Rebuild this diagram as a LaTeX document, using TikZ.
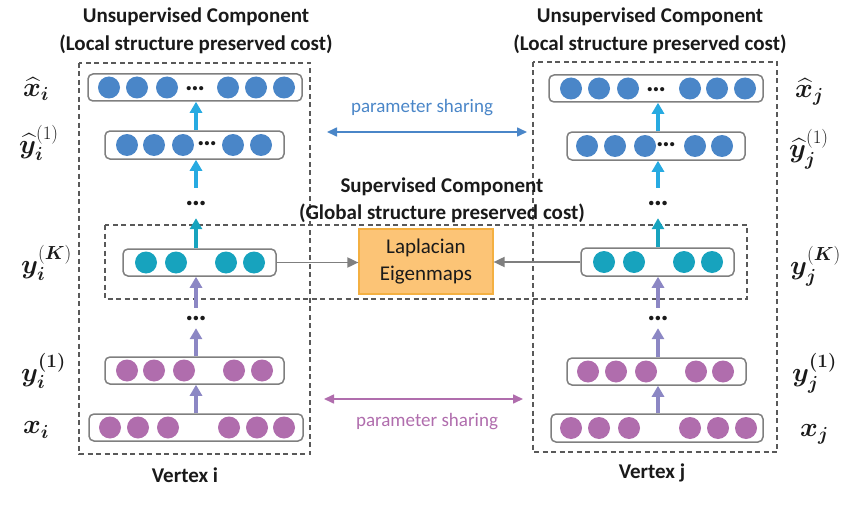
\RequirePackage{fix-cm}
\documentclass[tikz,border=0pt]{standalone}
\usepackage{amsmath,bm}
\usepackage{fontspec}
\setmainfont{Carlito}
\usetikzlibrary{arrows.meta,calc}
\definecolor{cblue}{HTML}{4A86C8}
\definecolor{cteal}{HTML}{17A3BE}
\definecolor{cpurp}{HTML}{B06DAD}
\definecolor{acyan}{HTML}{27AAE1}
\definecolor{ateal}{HTML}{17A3BE}
\definecolor{apurp}{HTML}{8C87C4}
\definecolor{boxgray}{HTML}{7F7F7F}
\definecolor{dashgray}{HTML}{595959}
\definecolor{lapfill}{HTML}{FCC476}
\definecolor{lapline}{HTML}{F4B042}
\definecolor{txt}{HTML}{1A1A1A}
\begin{document}
\begin{tikzpicture}[x=1pt,y=-1pt,
  lay/.style={draw=boxgray, line width=1.5pt, rounded corners=5pt, inner sep=0pt, fill=white},
  circ/.style={circle, inner sep=0pt, minimum size=22pt},
  indots/.style={inner sep=0pt, text=txt, font=\fontsize{28}{28}\selectfont\bfseries},
  gapdots/.style={inner sep=0pt, minimum width=10pt, text=txt, font=\fontsize{30}{30}\selectfont\bfseries},
  uarr/.style={line width=4pt, -{Triangle[length=11pt,width=12pt]}},
  dbox/.style={draw=dashgray, line width=1.1pt, dash pattern=on 5pt off 3.5pt},
  title/.style={font=\fontsize{21}{24}\selectfont\bfseries, text=txt, inner sep=0pt},
  mlab/.style={font=\fontsize{27}{30}\selectfont, text=txt, inner sep=0pt, anchor=west},
  share/.style={font=\fontsize{19}{22}\selectfont, inner sep=0pt},
  sarr/.style={line width=1.6pt, {Triangle[length=10pt,width=9pt]}-{Triangle[length=10pt,width=9pt]}},
  garr/.style={draw=boxgray, line width=1.8pt, -{Triangle[length=11pt,width=10pt]}}
]
\useasboundingbox (0,0) rectangle (844,511);

% dashed frames
\draw[dbox] (79,63) rectangle (310,454);
\draw[dbox] (533,62) rectangle (777,452);
\draw[dbox] (105,225) rectangle (747,299);

% titles
\node[title] (t1a) at (196,17) {Unsupervised Component};
\node[title] (t1b) at (196,44) {(Local structure preserved cost)};
\node[title] (t2a) at (650,17) {Unsupervised Component};
\node[title] (t2b) at (650,44) {(Local structure preserved cost)};
\node[title] (t3a) at (442,187) {Supervised Component};
\node[title] (t3b) at (442,213) {(Global structure preserved cost)};
\node[title] (vi) at (185,475) {Vertex i};
\node[title] (vj) at (652,473) {Vertex j};

% ---------- left column ----------
\node[lay, minimum width=214pt, minimum height=27pt] (xhi) at (195,87.5) {};
\foreach \cx [count=\k] in {109,137,167,228,256,284} \node[circ, fill=cblue] (xhi-\k) at (\cx,87.5) {};
\node[indots] (xhid) at (195,89) {…};

\node[lay, minimum width=179pt, minimum height=28pt] (yhi) at (194.5,145) {};
\foreach \cx [count=\k] in {127,154,183,233,261} \node[circ, fill=cblue] (yhi-\k) at (\cx,145) {};
\node[indots] (yhid) at (207,144) {…};

\node[gapdots, minimum height=30pt] (dti) at (196,203) {…};

\node[lay, minimum width=153pt, minimum height=27pt] (yKi) at (199.5,262.5) {};
\foreach \cx [count=\k] in {146,176,226,254} \node[circ, fill=cteal] (yKi-\k) at (\cx,262.5) {};

\node[gapdots, minimum height=20pt] (dbi) at (196,318) {…};

\node[lay, minimum width=179pt, minimum height=27pt] (y1i) at (194.5,370.5) {};
\foreach \cx [count=\k] in {127,154,184,234,262} \node[circ, fill=cpurp] (y1i-\k) at (\cx,370.5) {};

\node[lay, minimum width=214pt, minimum height=27pt] (xi) at (196,427.5) {};
\foreach \cx [count=\k] in {110,138,168,229,257,284} \node[circ, fill=cpurp] (xi-\k) at (\cx,427.5) {};

\draw[uarr, draw=acyan] (xi.north |- yhi.north) -- (xi.north |- xhi.south);
\draw[uarr, draw=acyan] (dti.north) -- (dti.north |- yhi.south);
\draw[uarr, draw=ateal] (dti.north |- yKi.north) -- (dti.south);
\draw[uarr, draw=apurp] (dbi.north) -- (dbi.north |- yKi.south);
\draw[uarr, draw=apurp] (dbi.north |- y1i.north) -- (dbi.south);
\draw[uarr, draw=apurp] (xi.north) -- (xi.north |- y1i.south);

% ---------- right column ----------
\node[lay, minimum width=214pt, minimum height=27pt] (xhj) at (656,88.5) {};
\foreach \cx [count=\k] in {571,599,628,690,717,745} \node[circ, fill=cblue] (xhj-\k) at (\cx,88.5) {};
\node[indots] (xhjd) at (656,90) {…};

\node[lay, minimum width=178pt, minimum height=28pt] (yhj) at (656,146) {};
\foreach \cx [count=\k] in {587,615,645,695,722} \node[circ, fill=cblue] (yhj-\k) at (\cx,146) {};
\node[indots] (yhjd) at (666,145) {…};

\node[gapdots, minimum height=30pt] (dtj) at (658,203) {…};

\node[lay, minimum width=153pt, minimum height=28pt] (yKj) at (657.5,262) {};
\foreach \cx [count=\k] in {604,634,684,712} \node[circ, fill=cteal] (yKj-\k) at (\cx,262) {};

\node[gapdots, minimum height=20pt] (dbj) at (658,318) {…};

\node[lay, minimum width=179pt, minimum height=27pt] (y1j) at (656.5,371.5) {};
\foreach \cx [count=\k] in {588,616,646,696,723} \node[circ, fill=cpurp] (y1j-\k) at (\cx,371.5) {};

\node[lay, minimum width=212pt, minimum height=28pt] (xj) at (657,428) {};
\foreach \cx [count=\k] in {571,599,629,690,718,746} \node[circ, fill=cpurp] (xj-\k) at (\cx,428) {};

\draw[uarr, draw=acyan] (dtj.north |- yhj.north) -- (dtj.north |- xhj.south);
\draw[uarr, draw=acyan] (dtj.north) -- (dtj.north |- yhj.south);
\draw[uarr, draw=ateal] (dtj.north |- yKj.north) -- (dtj.south);
\draw[uarr, draw=apurp] (dbj.north) -- (dbj.north |- yKj.south);
\draw[uarr, draw=apurp] (dbj.north |- y1j.north) -- (dbj.south);
\draw[uarr, draw=apurp] (dbj.north |- xj.north) -- (dbj.north |- y1j.south);

% ---------- Laplacian ----------
\node[fill=lapfill, draw=lapline, line width=1.2pt, minimum width=134pt, minimum height=65pt,
      align=center, font=\fontsize{21}{27}\selectfont, text=txt, inner sep=0pt] (lap) at (426,261.5)
      {Laplacian\\Eigenmaps};
\draw[garr] (yKi.east) -- (yKi.east -| lap.west);
\draw[garr] (yKj.west) -- (yKj.west -| lap.east);

% ---------- parameter sharing ----------
\coordinate (pa1) at (327,132);
\coordinate (pa2) at (527,132);
\draw[sarr, draw=cblue] (pa1) -- (pa2);
\node[share, text=cblue] (ps1) at (422,108) {parameter sharing};
\coordinate (pb1) at (324,399);
\coordinate (pb2) at (523,399);
\draw[sarr, draw=cpurp] (pb1) -- (pb2);
\node[share, text=cpurp] (ps2) at (427,422) {parameter sharing};

% ---------- math labels ----------
\node[mlab] (lxhi) at (23,89) {$\boldsymbol{\widehat{x}_i}$};
\node[mlab] (lyhi) at (19,143) {$\boldsymbol{\widehat{y}_i}^{(1)}$};
\node[mlab] (lyKi) at (21,263) {$\boldsymbol{y}_{\boldsymbol{i}}^{(\boldsymbol{K})}$};
\node[mlab] (ly1i) at (21,371) {$\boldsymbol{y_i^{(1)}}$};
\node[mlab] (lxi) at (23,430) {$\boldsymbol{x_i}$};

\node[mlab] (lxhj) at (795,92) {$\boldsymbol{\widehat{x}_j}$};
\node[mlab] (lyhj) at (789,149) {$\boldsymbol{\widehat{y}_j}^{(1)}$};
\node[mlab] (lyKj) at (790,266) {$\boldsymbol{y}_{\boldsymbol{j}}^{(\boldsymbol{K})}$};
\node[mlab] (ly1j) at (792,373) {$\boldsymbol{y_j^{(1)}}$};
\node[mlab] (lxj) at (800,434) {$\boldsymbol{x_j}$};
\end{tikzpicture}
\end{document}
